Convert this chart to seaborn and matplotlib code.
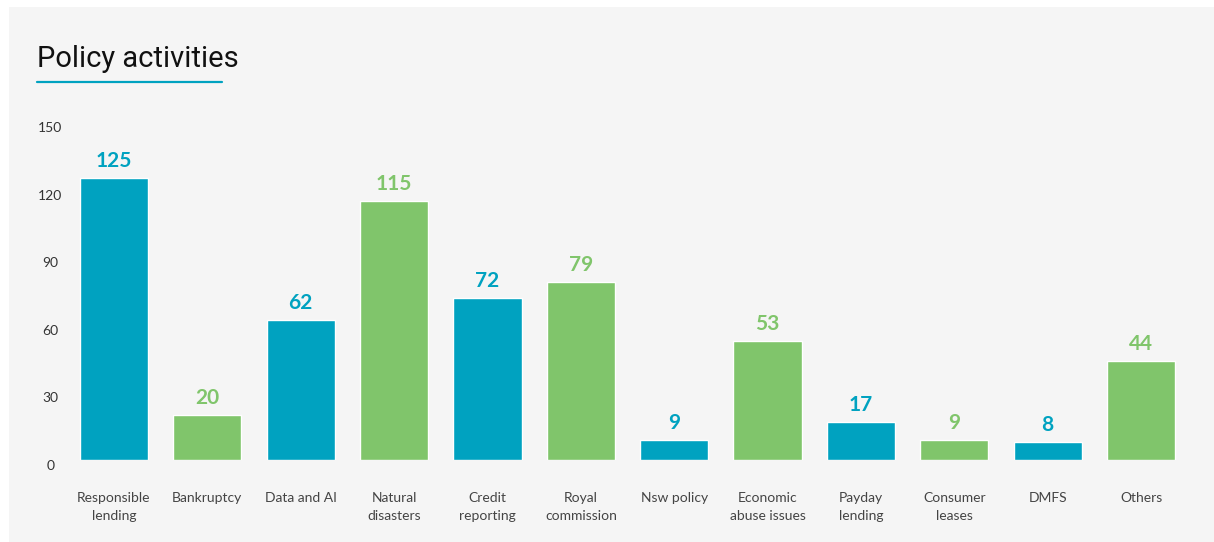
import matplotlib
matplotlib.use("Agg")
import matplotlib.pyplot as plt
import matplotlib.transforms as mtransforms
from matplotlib.patches import Rectangle
from matplotlib.lines import Line2D
import seaborn as sns
import pandas as pd

categories = ["Responsible\nlending", "Bankruptcy", "Data and AI", "Natural\ndisasters",
              "Credit\nreporting", "Royal\ncommission", "Nsw policy", "Economic\nabuse issues",
              "Payday\nlending", "Consumer\nleases", "DMFS", "Others"]
values = [125, 20, 62, 115, 72, 79, 9, 53, 17, 9, 8, 44]
yticks = [0, 30, 60, 90, 120, 150]

TEAL = "#00a2c0"
GREEN = "#80c56b"
colors = [TEAL if i % 2 == 0 else GREEN for i in range(len(values))]

sns.set_theme(style="white")
plt.rcParams['font.family'] = ['Lato', 'DejaVu Sans']

W, H = 1214, 542
fig = plt.figure(figsize=(W / 100, H / 100), dpi=100)
fig.patch.set_facecolor("white")
fig.patches.append(Rectangle((9 / W, 0), 1 - 9 / W, 1 - 7 / H, transform=fig.transFigure,
                             facecolor="#f5f5f5", edgecolor="none", zorder=-10))

ax = fig.add_axes([67.3 / W, (H - 460) / H, (1187.7 - 67.3) / W, (460 - 122) / H])
ax.set_facecolor("none")
ax.set_zorder(5)

df = pd.DataFrame({"cat": categories, "val": values})
sns.barplot(data=df, x="cat", y="val", hue="cat", palette=colors, legend=False,
            width=0.73, saturation=1, ax=ax)

ax.set_xlim(-0.5, len(values) - 0.5)
ax.set_ylim(0, 148.5)
ax.set_yticks(yticks)
ax.set_yticklabels([str(t) for t in yticks])
ax.set_xlabel("")
ax.set_ylabel("")
for s in ax.spines.values():
    s.set_visible(False)
ax.grid(False)

ax.tick_params(axis="y", length=0, pad=12.2, labelsize=10, labelcolor="#333333")
ax.tick_params(axis="x", length=0, pad=23, labelsize=10, labelcolor="#444444")
off = mtransforms.ScaledTranslation(0, -5 / 100, fig.dpi_scale_trans)
for lbl in ax.get_yticklabels():
    lbl.set_horizontalalignment("center")
    lbl.set_transform(lbl.get_transform() + off)
for lbl in ax.get_xticklabels():
    lbl.set_linespacing(1.6)
    lbl.set_verticalalignment("top")

for i, (v, c) in enumerate(zip(values, colors)):
    ax.annotate(str(v), xy=(i, v), xytext=(0, 5), textcoords="offset points",
                ha="center", va="bottom", fontsize=15, fontweight="bold", color=c)

fig.text(37 / W, 1 - 67 / H, "Policy activities", fontsize=21, color="#111111",
         family="Roboto", weight="normal", va="baseline", ha="left")
fig.add_artist(Line2D([37 / W, 222 / W], [1 - 82 / H, 1 - 82 / H], transform=fig.transFigure,
                      color=TEAL, linewidth=1.6))

fig.savefig("out.png", dpi=100, facecolor="white")
